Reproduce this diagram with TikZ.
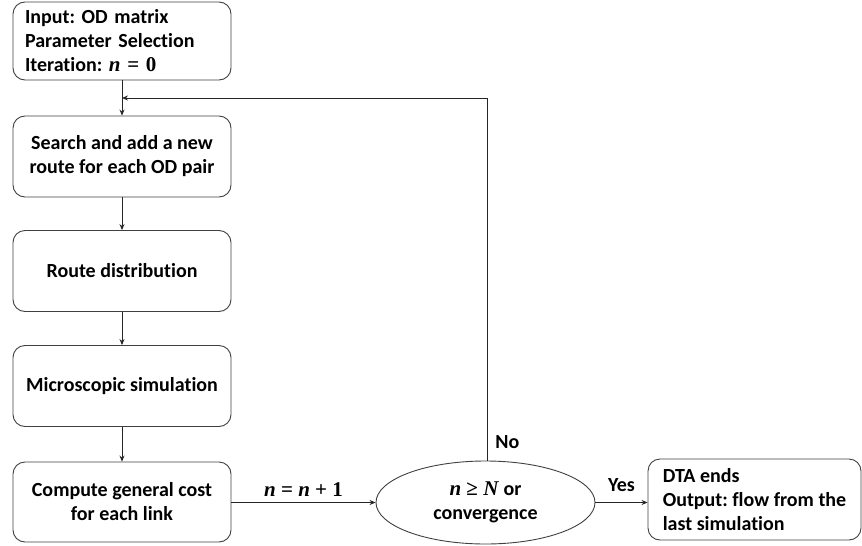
\documentclass[tikz,border=0pt]{standalone}
\usepackage{fontspec}
\setmainfont{Carlito}[Ligatures=NoCommon]
\newfontfamily\mymathfont{Liberation Serif}
\newcommand\mymath[1]{{\mymathfont\fontsize{21}{24}\selectfont\bfseries #1}}
\newcommand\vn{\textit{n}}
\newcommand\vN{\textit{N}}
\usetikzlibrary{arrows.meta,shapes.geometric}
\begin{document}
\frenchspacing
\begin{tikzpicture}[x=1pt,y=-1pt,
  font=\fontsize{20}{24}\selectfont\bfseries,
  box/.style={draw=black!75, line width=0.9pt, rounded corners=12pt, minimum width=218pt, minimum height=81pt, align=center, inner sep=0pt},
  lbox/.style={box, align=left, text width=194pt},
  dec/.style={draw=black!75, line width=0.9pt, ellipse, minimum width=219pt, minimum height=83pt, align=center, inner sep=0pt},
  arr/.style={draw=black!85, line width=0.8pt, -{Stealth[length=6pt,width=5pt]}},
  lab/.style={inner sep=0pt}]
\useasboundingbox (0,0) rectangle (862,546);
\node[lbox, minimum height=78pt] (b1) at (122,41) {Input: OD matrix\\Parameter Selection\\Iteration: \mymath{\vn\ = 0}};
\node[box] (b2) at (122,156.5) {Search and add a new\\route for each OD pair};
\node[box] (b3) at (122,271) {Route distribution};
\node[box] (b4) at (122,386) {Microscopic simulation};
\node[box, minimum height=80pt] (b5) at (122,502) {Compute general cost\\for each link};
\node[dec] (d) at (485.5,502.5) {\mymath{\vn\ ≥ \vN} or\\convergence};
\node[box, align=left, minimum width=213pt, minimum height=81pt] (b6) at (754.5,499.5) {DTA ends\\Output: flow from the\\last simulation};
\coordinate (j) at (122,98);
\coordinate (c) at (487,98);
\draw[arr] (b1) -- (b2);
\draw[arr] (b2) -- (b3);
\draw[arr] (b3) -- (b4);
\draw[arr] (b4) -- (b5);
\draw[arr] (b5.east |- d.west) -- node[lab, above=6pt] {\mymath{\vn\ = \vn\ + 1}} (d.west);
\draw[arr] (d.east) -- node[lab, above=10pt] {Yes} (d.east -| b6.west);
\draw[arr] (d.north -| c) -- node[lab, pos=0.05, right=8pt] {No} (c) -- (j);
\end{tikzpicture}
\end{document}
